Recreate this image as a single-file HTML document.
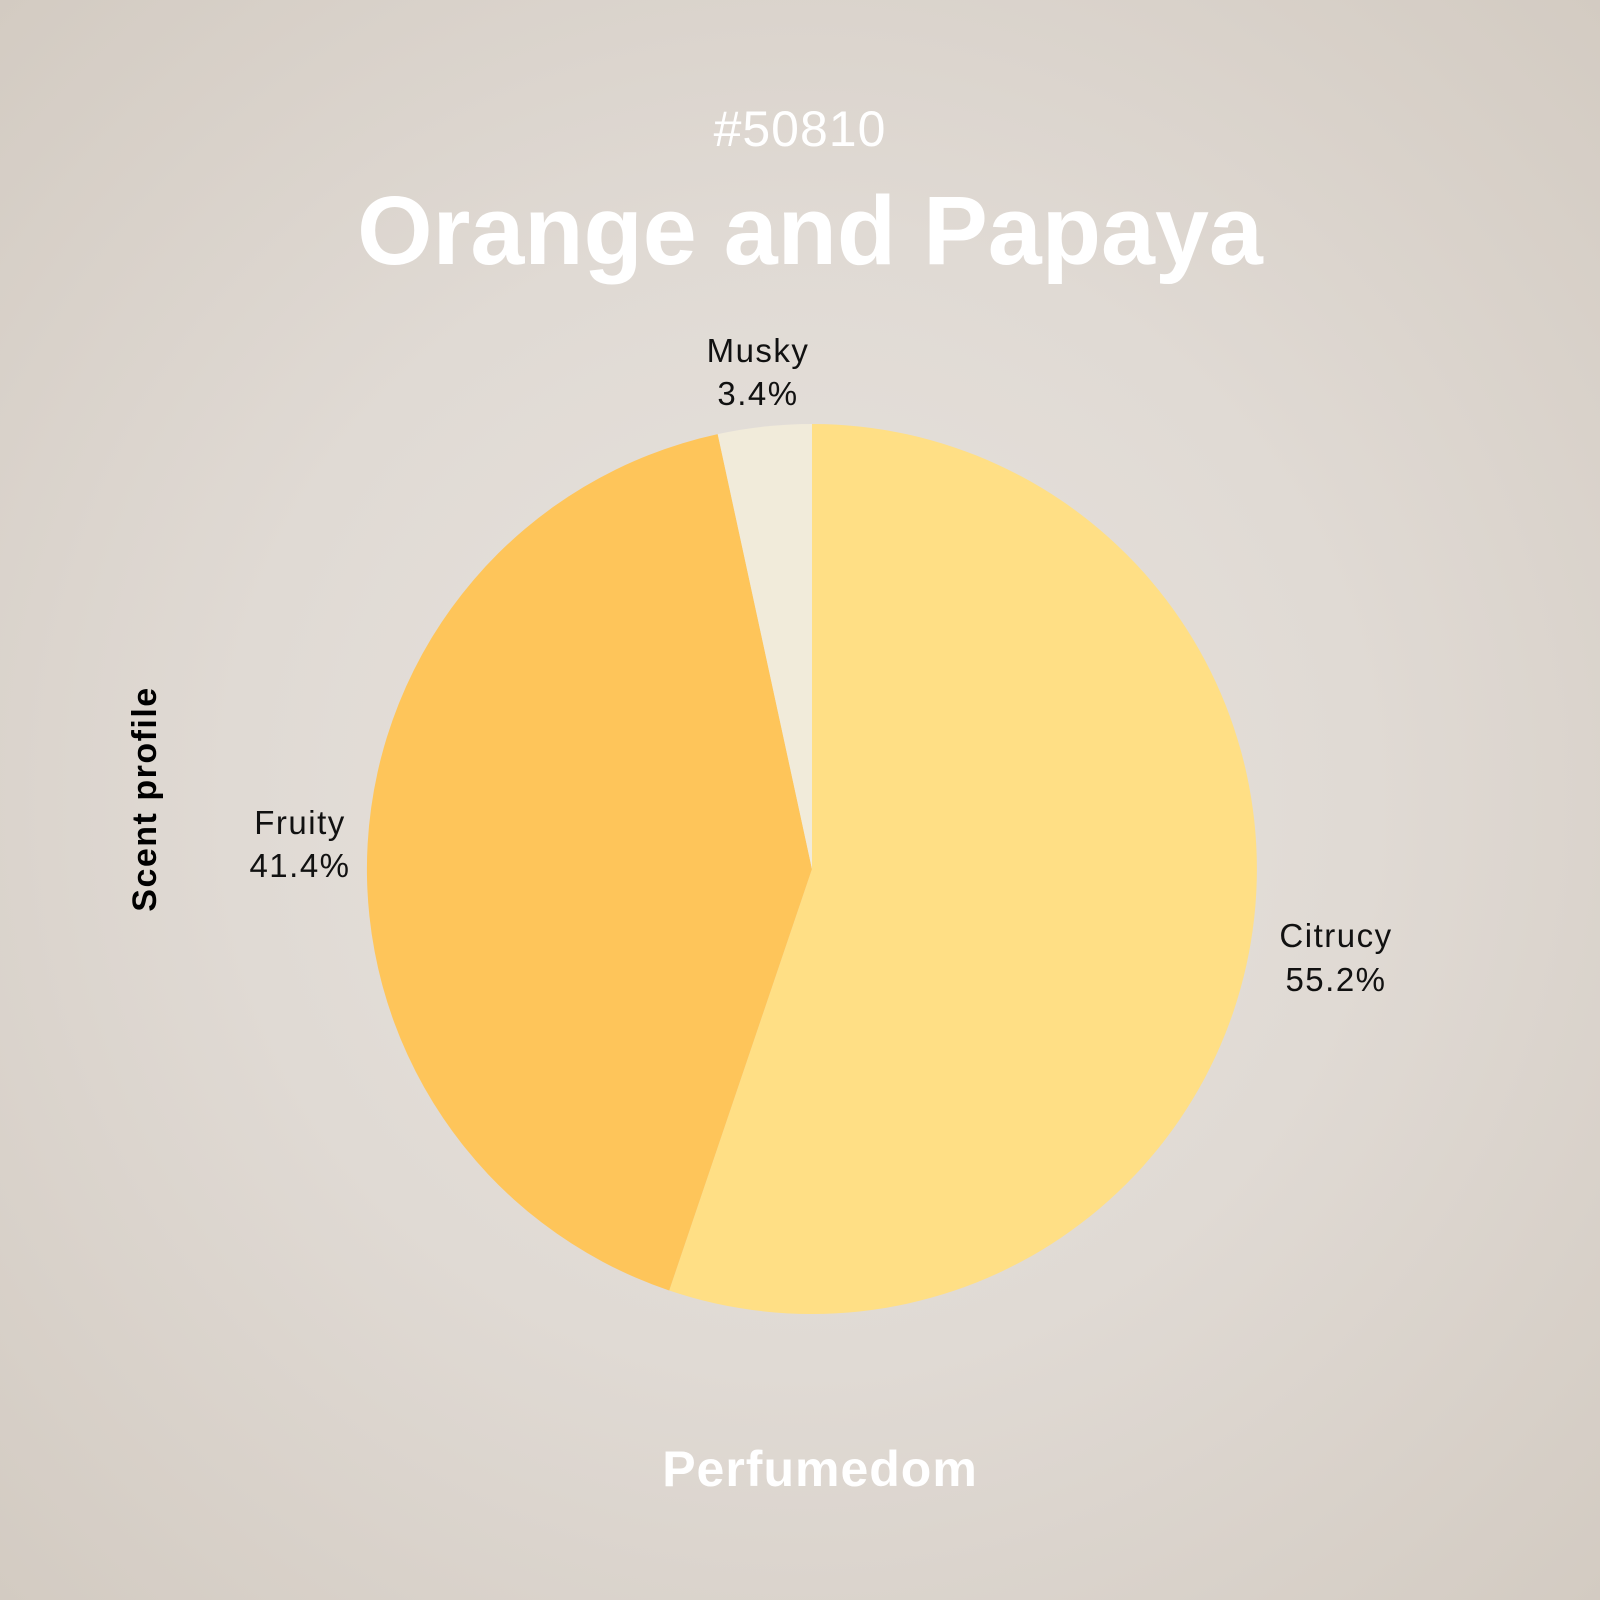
<!DOCTYPE html>
<html><head><meta charset="utf-8"><style>
html,body{margin:0;padding:0;}
body{width:1600px;height:1600px;overflow:hidden;background:radial-gradient(circle at 50% 50%,#e7e3de 0%,#e0dad4 50%,#d3cbc2 100%);}
svg{display:block}
text{font-family:"Liberation Sans",sans-serif;}
</style></head><body>
<svg width="1600" height="1600" viewBox="0 0 1600 1600" xmlns="http://www.w3.org/2000/svg">
<text x="800" y="146" text-anchor="middle" font-size="50" fill="#ffffff" letter-spacing="1">#50810</text>
<text x="810" y="264" text-anchor="middle" font-size="97" font-weight="bold" fill="#ffffff">Orange and Papaya</text>
<path d="M812,869 L812,424 A445,445 0 1 1 669.2,1290.5 Z" fill="#ffdf85"/>
<path d="M812,869 L669.2,1290.5 A445,445 0 0 1 717.7,434.1 Z" fill="#fec55a"/>
<path d="M812,869 L717.7,434.1 A445,445 0 0 1 812,424 Z" fill="#f1ebda"/>
<g font-size="33" fill="#111" text-anchor="middle" letter-spacing="1.5">
<text x="758" y="362">Musky</text><text x="758" y="405">3.4%</text>
<text x="300" y="834">Fruity</text><text x="300" y="877">41.4%</text>
<text x="1336" y="947">Citrucy</text><text x="1336" y="991">55.2%</text>
</g>
<text transform="translate(156,799) rotate(-90)" text-anchor="middle" font-size="34" font-weight="bold" fill="#000" letter-spacing="1.5">Scent profile</text>
<text x="820" y="1486" text-anchor="middle" font-size="50" font-weight="bold" fill="#ffffff" letter-spacing="1">Perfumedom</text>
</svg>
</body></html>
